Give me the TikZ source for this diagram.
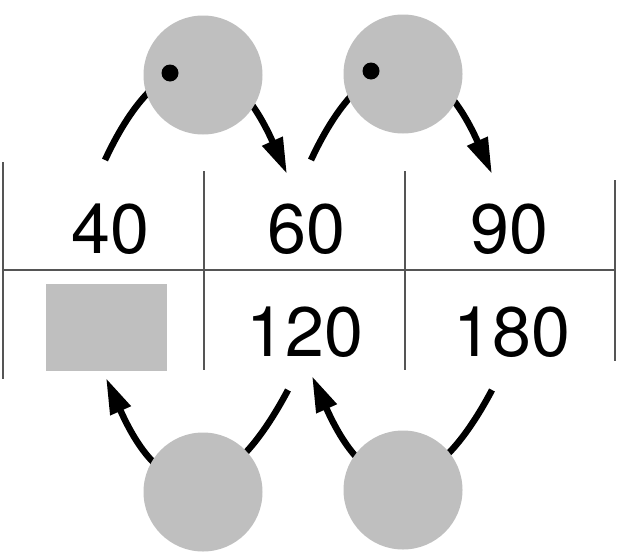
\documentclass[tikz,border=0pt]{standalone}
\usepackage{fontspec}
\setmainfont{TeX Gyre Heros}
\usetikzlibrary{arrows.meta}
\definecolor{cgray}{RGB}{191,191,191}
\definecolor{rule}{RGB}{85,85,85}
\tikzset{
  rulel/.style={draw=rule,line width=1.2pt},
  num/.style={anchor=base,inner sep=0pt,font=\fontsize{70pt}{70pt}\selectfont},
  ball/.style={circle,fill=cgray,minimum size=119pt,inner sep=0pt},
  dotm/.style={circle,fill=black,minimum size=17pt,inner sep=0pt},
  flow/.style={line width=6.5pt,-{Triangle[length=36pt,width=21pt]}},
  top/.style={out=65,in=114,looseness=1.95},
  bot/.style={out=-118,in=-66,looseness=1.95}
}
\begin{document}
\begin{tikzpicture}[x=1pt,y=-1pt]
\useasboundingbox (0,0) rectangle (620,557);
% table rules
\draw[rulel] (3,162) -- (3,379);
\draw[rulel] (204,171) -- (204,370);
\draw[rulel] (405,171) -- (405,370);
\draw[rulel] (615,180) -- (615,361);
\draw[rulel] (3,270) -- (615,270);
% cells
\node[num] (c40) at (110,253) {40};
\node[num] (c60) at (306,253) {60};
\node[num] (c90) at (509,253) {90};
\node[num] (c120) at (305,356) {120};
\node[num] (c180) at (512,356) {180};
\node[fill=cgray,minimum width=121pt,minimum height=87pt,inner sep=0pt] (box) at (106.5,327.5) {};
% connector ends
\coordinate (t1s) at (105,160);
\coordinate (t1e) at (287,174);
\coordinate (t2s) at (311,160);
\coordinate (t2e) at (492,174);
\coordinate (b1s) at (288,390);
\coordinate (b1e) at (106,378);
\coordinate (b2s) at (492,390);
\coordinate (b2e) at (312,376);
% connectors
\draw[flow] (t1s) to[top] (t1e);
\draw[flow] (t2s) to[top] (t2e);
\draw[flow] (b1s) to[bot] (b1e);
\draw[flow] (b2s) to[bot] (b2e);
% balls
\node[ball] (u1) at (203,75) {};
\node[ball] (u2) at (403,74) {};
\node[ball] (d1) at (203,492) {};
\node[ball] (d2) at (403,490) {};
\node[dotm] (p1) at (170,73) {};
\node[dotm] (p2) at (371,71) {};
\end{tikzpicture}
\end{document}
